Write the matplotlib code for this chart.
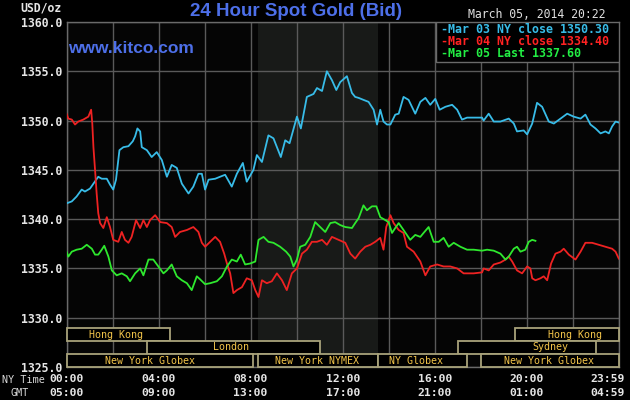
import numpy as np
import matplotlib
matplotlib.use("Agg")
import matplotlib.pyplot as plt
import matplotlib.transforms as mtrans
from matplotlib.patches import Rectangle

# ---------------- data ----------------
mar03_hours = [0.0, 0.23, 0.44, 0.66, 0.80, 1.02, 1.17, 1.38, 1.53, 1.75, 1.89, 2.03, 2.15, 2.30, 2.47, 2.69,
               2.88, 2.98, 3.08, 3.20, 3.27, 3.49, 3.70, 3.92, 4.14, 4.36, 4.57, 4.79, 5.01, 5.30, 5.51, 5.73,
               5.88, 6.02, 6.17, 6.46, 6.67, 6.89, 7.18, 7.40, 7.66, 7.83, 8.12, 8.27, 8.49, 8.77, 8.99, 9.31,
               9.50, 9.69, 10.01, 10.18, 10.44, 10.73, 10.88, 11.10, 11.31, 11.53, 11.72, 11.89, 12.18, 12.40,
               12.54, 12.69, 12.90, 13.12, 13.34, 13.49, 13.63, 13.77, 13.92, 14.07, 14.28, 14.43, 14.64, 14.86,
               15.15, 15.37, 15.59, 15.80, 16.02, 16.21, 16.46, 16.75, 16.97, 17.18, 17.40, 17.69, 18.05, 18.12,
               18.34, 18.56, 18.85, 19.21, 19.43, 19.57, 19.86, 20.01, 20.23, 20.44, 20.66, 20.95, 21.17, 21.46,
               21.75, 22.03, 22.33, 22.54, 22.76, 22.98, 23.20, 23.41, 23.56, 23.70, 23.85, 23.99]
mar03_price = [1341.6, 1341.8, 1342.3, 1343.0, 1342.8, 1343.1, 1343.6, 1344.3, 1344.1, 1344.1, 1343.5, 1343.0,
               1344.0, 1347.0, 1347.3, 1347.4, 1347.9, 1348.4, 1349.2, 1348.9, 1347.3, 1347.0, 1346.3, 1346.8,
               1346.0, 1344.3, 1345.5, 1345.2, 1343.6, 1342.6, 1343.3, 1344.6, 1344.6, 1343.0, 1344.0, 1344.1,
               1344.3, 1344.5, 1343.3, 1344.6, 1345.7, 1343.8, 1345.0, 1346.5, 1345.8, 1348.5, 1348.2, 1346.3,
               1348.0, 1347.7, 1350.4, 1349.2, 1352.4, 1352.7, 1353.3, 1353.0, 1355.0, 1354.1, 1353.1, 1353.9,
               1354.5, 1352.8, 1352.4, 1352.3, 1352.1, 1351.9, 1351.1, 1349.6, 1351.1, 1349.9, 1349.6, 1349.6,
               1350.6, 1350.7, 1352.4, 1352.1, 1350.7, 1351.9, 1352.3, 1351.6, 1352.2, 1351.1, 1351.4, 1351.6,
               1351.1, 1350.1, 1350.3, 1350.3, 1350.3, 1350.0, 1350.7, 1349.9, 1349.9, 1350.2, 1349.7, 1348.9,
               1349.0, 1348.6, 1349.7, 1351.8, 1351.4, 1349.9, 1349.7, 1350.2, 1350.7, 1350.4, 1350.2, 1350.6,
               1349.6, 1349.2, 1348.7, 1348.9, 1348.7, 1349.4, 1349.9, 1349.8]

mar04_hours = [0.0, 0.08, 0.23, 0.37, 0.51, 0.73, 0.95, 1.07, 1.12, 1.17, 1.24, 1.31, 1.38, 1.46, 1.60, 1.75,
               1.89, 2.03, 2.25, 2.40, 2.54, 2.69, 2.83, 3.02, 3.20, 3.34, 3.49, 3.63, 3.85, 4.07, 4.36, 4.57,
               4.72, 4.93, 5.23, 5.51, 5.73, 5.88, 6.02, 6.24, 6.46, 6.67, 6.85, 6.97, 7.11, 7.25, 7.40, 7.62,
               7.83, 8.05, 8.20, 8.34, 8.49, 8.70, 8.92, 9.14, 9.36, 9.57, 9.79, 10.01, 10.23, 10.44, 10.66,
               10.88, 11.10, 11.31, 11.53, 11.82, 12.11, 12.33, 12.54, 12.76, 12.98, 13.20, 13.41, 13.63, 13.77,
               13.89, 14.07, 14.21, 14.43, 14.64, 14.79, 15.08, 15.37, 15.59, 15.80, 16.10, 16.38, 16.67, 16.97,
               17.25, 17.69, 18.05, 18.12, 18.34, 18.56, 18.85, 19.07, 19.21, 19.36, 19.57, 19.79, 20.01, 20.15,
               20.23, 20.37, 20.59, 20.73, 20.88, 21.05, 21.24, 21.46, 21.60, 21.82, 22.11, 22.33, 22.54, 22.83,
               23.12, 23.41, 23.70, 23.85, 23.99]
mar04_price = [1350.7, 1350.2, 1350.1, 1349.6, 1349.9, 1350.1, 1350.4, 1351.1, 1349.7, 1347.3, 1345.0, 1342.6,
               1340.6, 1339.6, 1339.1, 1340.2, 1339.2, 1337.9, 1337.7, 1338.7, 1337.9, 1337.6, 1338.2, 1339.9,
               1339.1, 1339.9, 1339.2, 1339.9, 1340.4, 1339.7, 1339.6, 1339.2, 1338.2, 1338.7, 1338.9, 1339.2,
               1338.7, 1337.6, 1337.2, 1337.7, 1338.2, 1337.7, 1336.5, 1335.5, 1334.5, 1332.5, 1332.8, 1333.1,
               1334.0, 1333.8, 1332.8, 1332.1, 1333.8, 1333.5, 1333.7, 1334.5, 1333.8, 1332.8, 1334.5, 1335.0,
               1336.5, 1336.9, 1337.7, 1337.7, 1337.9, 1337.4, 1338.2, 1337.9, 1337.6, 1336.5, 1336.0, 1336.7,
               1337.2, 1337.4, 1337.7, 1338.1, 1336.9, 1339.2, 1340.4, 1339.6, 1338.9, 1338.6, 1337.2, 1336.7,
               1335.7, 1334.3, 1335.2, 1335.4, 1335.2, 1335.2, 1335.0, 1334.5, 1334.5, 1334.6, 1335.0, 1334.8,
               1335.4, 1335.6, 1335.9, 1336.2, 1335.7, 1334.8, 1334.5, 1335.2, 1335.0, 1334.0, 1333.8, 1334.0,
               1334.2, 1333.8, 1335.5, 1336.5, 1336.7, 1337.0, 1336.4, 1335.9, 1336.7, 1337.6, 1337.6, 1337.4,
               1337.2, 1337.0, 1336.7, 1336.0]

mar05_hours = [0.0, 0.08, 0.23, 0.44, 0.66, 0.88, 1.10, 1.24, 1.38, 1.53, 1.64, 1.82, 1.97, 2.18, 2.40, 2.62,
               2.76, 2.98, 3.20, 3.34, 3.56, 3.77, 3.99, 4.21, 4.36, 4.57, 4.79, 5.01, 5.23, 5.44, 5.66, 5.80,
               6.02, 6.24, 6.53, 6.75, 6.97, 7.18, 7.40, 7.57, 7.76, 7.98, 8.20, 8.34, 8.56, 8.77, 8.99, 9.28,
               9.54, 9.72, 9.86, 10.01, 10.15, 10.37, 10.59, 10.80, 11.02, 11.24, 11.46, 11.67, 11.89, 12.11,
               12.40, 12.54, 12.69, 12.90, 13.05, 13.27, 13.46, 13.63, 13.85, 13.99, 14.14, 14.28, 14.43, 14.64,
               14.93, 15.15, 15.37, 15.51, 15.73, 15.95, 16.17, 16.38, 16.60, 16.82, 17.11, 17.40, 17.69, 18.05,
               18.27, 18.56, 18.85, 19.07, 19.21, 19.43, 19.57, 19.72, 19.93, 20.08, 20.23, 20.37]
mar05_price = [1336.7, 1336.2, 1336.7, 1336.9, 1337.0, 1337.4, 1337.0, 1336.4, 1336.4, 1336.9, 1337.3, 1336.2,
               1334.8, 1334.3, 1334.5, 1334.2, 1333.7, 1334.5, 1335.0, 1334.3, 1335.9, 1335.9, 1335.2, 1334.5,
               1334.8, 1335.4, 1334.2, 1333.8, 1333.5, 1332.8, 1334.2, 1333.9, 1333.4, 1333.5, 1333.7, 1334.2,
               1335.2, 1335.9, 1335.7, 1336.4, 1335.4, 1335.5, 1335.7, 1337.9, 1338.2, 1337.7, 1337.6, 1337.2,
               1336.7, 1336.2, 1335.2, 1335.9, 1337.2, 1337.4, 1338.2, 1339.7, 1339.2, 1338.7, 1339.6, 1339.7,
               1339.4, 1339.2, 1339.1, 1339.6, 1340.1, 1341.4, 1340.9, 1341.3, 1341.3, 1340.2, 1339.9, 1339.7,
               1338.6, 1339.1, 1339.6, 1338.9, 1337.9, 1338.4, 1338.2, 1338.6, 1339.2, 1337.7, 1337.7, 1338.1,
               1337.2, 1337.6, 1337.2, 1336.9, 1336.9, 1336.8, 1336.9, 1336.8, 1336.5, 1335.9, 1336.2, 1337.0,
               1337.2, 1336.7, 1336.9, 1337.7, 1337.9, 1337.8]

legend_labels = ["Mar 03 NY close 1350.30", "Mar 04 NY close 1334.40", "Mar 05 Last 1337.60"]

ny_time_labels = ["00:00", "04:00", "08:00", "12:00", "16:00", "20:00", "23:59"]
gmt_labels = ["05:00", "09:00", "13:00", "17:00", "21:00", "01:00", "04:59"]
label_hours = [0, 4, 8, 12, 16, 20, 23.52]

y_ticks = [1325, 1330, 1335, 1340, 1345, 1350, 1355, 1360]

# sessions: name, start hour, end hour, row (0 top), label centre hour
session_names = ["Hong Kong", "Hong Kong", "London", "Sydney",
                 "New York Globex", "New York NYMEX", "NY Globex", "New York Globex"]
session_start = [0.0, 19.5, 3.5, 17.0, 0.0, 8.33, 13.55, 18.0]
session_end = [4.5, 24.0, 11.0, 23.0, 8.08, 13.55, 17.4, 24.0]
session_row = [0, 0, 1, 1, 2, 2, 2, 2]
session_label_at = [2.13, 22.07, 7.15, 21.0, 3.63, 10.89, 15.2, 20.98]

nymex_shade = (8.33, 13.55)

# ---------------- styling ----------------
W, H = 630, 400
fig = plt.figure(figsize=(W / 100, H / 100), dpi=100, facecolor="black")
ax_left, ax_right, ax_top, ax_bot = 66.5, 619, 22, 367
ax = fig.add_axes([ax_left / W, 1 - ax_bot / H, (ax_right - ax_left) / W, (ax_bot - ax_top) / H])
ax.set_facecolor("#050505")
ax.set_xlim(0, 24)
ax.set_ylim(1325, 1360)

ax.axvspan(*nymex_shade, color="#181a18", zorder=0, lw=0)

ax.set_xticks(np.arange(0, 25, 2))
ax.set_yticks(y_ticks)
ax.set_yticklabels([f"{v:.1f}" for v in y_ticks])
ax.grid(True, color="#5a5a5a", lw=1.0, zorder=1)
ax.set_axisbelow(True)
ax.tick_params(axis="both", length=0)
ax.tick_params(axis="x", labelbottom=False)
ax.tick_params(axis="y", pad=3, labelcolor="#e6e6e6", labelsize=8.3)
for lbl in ax.get_yticklabels():
    lbl.set_fontfamily("DejaVu Sans Mono")
    lbl.set_fontweight("bold")
for s in ax.spines.values():
    s.set_color("#6a6a6a")
    s.set_linewidth(1.0)

cyan, red, green = "#38bce8", "#ee2222", "#2ee82e"
ax.plot(mar03_hours, mar03_price, color=cyan, lw=1.3, zorder=3)
ax.plot(mar04_hours, mar04_price, color=red, lw=1.3, zorder=3)
ax.plot(mar05_hours, mar05_price, color=green, lw=1.3, zorder=3)

# session boxes
trans = mtrans.blended_transform_factory(ax.transData, ax.transAxes)
row_h = 13 / (ax_bot - ax_top)
for name, s0, s1, row, lx in zip(session_names, session_start, session_end, session_row, session_label_at):
    y0 = (2 - row) * row_h
    ax.add_patch(Rectangle((s0, y0), s1 - s0, row_h, transform=trans, facecolor="black",
                           edgecolor="#a8a27a", lw=1.3, zorder=5, clip_on=False))
    ax.text(lx, y0 + row_h / 2, name, transform=trans, ha="center", va="center",
            color="#f2c44a", fontsize=7.2, family="DejaVu Sans Mono", zorder=6)

# legend box
lx0 = (436 - ax_left) / (ax_right - ax_left)
ly0 = (ax_bot - 62) / (ax_bot - ax_top)
ax.add_patch(Rectangle((lx0, ly0), 1 - lx0, 1 - ly0, transform=ax.transAxes, facecolor="black",
                       edgecolor="#6a6a6a", lw=1.0, zorder=7))
for i, (txt, col) in enumerate(zip(legend_labels, [cyan, "#ff2222", "#22ee44"])):
    fig.text(441 / W, 1 - (29.5 + 12.2 * i) / H, "-" + txt, color=col, fontsize=8.4,
             family="DejaVu Sans Mono", fontweight="bold", ha="left", va="center", zorder=8)

# x labels (two rows)
for h, ny, gmt in zip(label_hours, ny_time_labels, gmt_labels):
    xf = (ax_left + h * (ax_right - ax_left) / 24) / W
    fig.text(xf, 1 - 378.5 / H, ny, color="#e6e6e6", fontsize=8.2, family="DejaVu Sans Mono",
             fontweight="bold", ha="center", va="center")
    fig.text(xf, 1 - 393 / H, gmt, color="#e6e6e6", fontsize=8.2, family="DejaVu Sans Mono",
             fontweight="bold", ha="center", va="center")
fig.text(45 / W, 1 - 380 / H, "NY Time", color="#d8d8d8", fontsize=7.3, family="DejaVu Sans Mono",
         ha="right", va="center")
fig.text(20 / W, 1 - 393 / H, "GMT", color="#d8d8d8", fontsize=7.3, family="DejaVu Sans Mono",
         ha="center", va="center")

# header texts
fig.text(62 / W, 1 - 8 / H, "USD/oz", color="#e6e6e6", fontsize=8.3, family="DejaVu Sans Mono",
         fontweight="bold", ha="right", va="center")
fig.text(296 / W, 1 - 11 / H, "24 Hour Spot Gold (Bid)", color="#4d6fe8", fontsize=13.5,
         family="Liberation Sans", fontweight="bold", ha="center", va="center")
fig.text(68 / W, 1 - 48.5 / H, "www.kitco.com", color="#4d6fe8", fontsize=12.5,
         family="Liberation Sans", fontweight="bold", ha="left", va="center", zorder=9)
fig.text(468 / W, 1 - 15 / H, "March 05, 2014 20:22", color="#e0e0e0", fontsize=8.3,
         family="DejaVu Sans Mono", ha="left", va="center")

fig.savefig("out.png", dpi=100, facecolor="black")
